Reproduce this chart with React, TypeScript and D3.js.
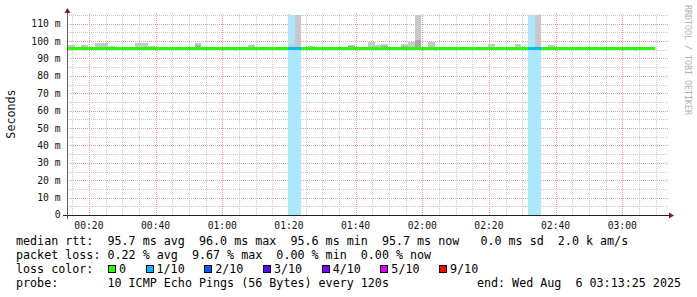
import React from "react";
import * as d3 from "d3";

// ---- data ----
const xTickMinutes = [20, 40, 60, 80, 100, 120, 140, 160, 180];
const xTickLabels = ["00:20", "00:40", "01:00", "01:20", "01:40", "02:00", "02:20", "02:40", "03:00"];
const yTickValues = [0, 10, 20, 30, 40, 50, 60, 70, 80, 90, 100, 110];
const yTickLabels = ["0", "10 m", "20 m", "30 m", "40 m", "50 m", "60 m", "70 m", "80 m", "90 m", "100 m", "110 m"];

// median rtt per 120 s step (ms)
const medianRtt = [
  96.0, 95.7, 95.7, 95.8, 95.7, 95.7, 95.7, 95.7, 95.7, 95.7,
  95.8, 95.8, 95.9, 95.6, 95.7, 95.7, 95.7, 95.7, 95.7, 95.6,
  95.7, 95.7, 95.7, 95.7, 95.7, 95.7, 95.7, 95.7, 95.7, 95.7,
  95.7, 95.7, 95.7, 95.7, 95.7, 95.7, 95.7, 95.7, 95.7, 95.7,
  95.7, 95.7, 95.7, 95.7, 95.7, 95.7, 95.9, 95.6, 95.7, 95.7,
  95.6, 95.7, 95.8, 95.7, 95.7, 95.7, 95.7, 95.7, 95.7, 95.7,
  95.7, 95.7, 95.7, 95.7, 95.7, 95.7, 95.7, 95.7, 95.7, 95.7,
  95.7, 95.7, 95.7, 95.7, 95.7, 95.7, 95.7, 95.7, 95.7, 95.7,
  95.7, 95.7, 95.7, 95.7, 95.7, 95.7, 95.7, 95.7,
];
// highest ping per step (ms)
const smokeMax = [
  97.5, 96.6, 97.9, 96.0, 98.7, 99.1, 97.4, 96.0, 96.0, 96.0,
  99.1, 99.1, 96.9, 96.0, 96.8, 96.8, 96.8, 96.0, 96.0, 99.1,
  96.0, 96.0, 96.6, 96.0, 96.0, 96.6, 96.0, 97.8, 96.0, 96.6,
  96.0, 96.0, 96.0, 97.7, 130.0, 96.0, 97.2, 96.0, 96.0, 96.0,
  96.0, 96.6, 97.8, 96.0, 96.0, 99.5, 97.8, 98.4, 96.0, 96.6,
  98.4, 99.5, 130.0, 96.0, 99.5, 96.0, 96.0, 96.0, 96.0, 96.0,
  96.0, 96.0, 96.0, 98.4, 96.0, 96.0, 96.0, 98.4, 96.0, 96.0,
  130.0, 96.0, 97.8, 96.0, 96.0, 96.0, 96.0, 96.0, 96.0, 96.0,
  96.0, 96.0, 96.0, 96.0, 96.0, 96.0, 96.0, 96.0,
];
// second highest ping per step (ms), 0 = hidden
const smokeInner = [
  0, 0, 0, 0, 0, 0, 0, 0, 0, 0,
  0, 0, 0, 0, 0, 0, 0, 0, 0, 97.7,
  0, 0, 0, 0, 0, 0, 0, 0, 0, 0,
  0, 0, 0, 0, 0, 0, 96.6, 0, 0, 0,
  0, 0, 96.9, 0, 0, 96.6, 0, 97.0, 0, 0,
  97.4, 0, 100.5, 0, 96.7, 0, 0, 0, 0, 0,
  0, 0, 0, 0, 0, 0, 0, 0, 0, 0,
  0, 0, 0, 0, 0, 0, 0, 0, 0, 0,
  0, 0, 0, 0, 0, 0, 0, 0,
];
// lost pings out of 10 per step
const lossTenths = [
  0, 0, 0, 0, 0, 0, 0, 0, 0, 0,
  0, 0, 0, 0, 0, 0, 0, 0, 0, 0,
  0, 0, 0, 0, 0, 0, 0, 0, 0, 0,
  0, 0, 0, 1, 1, 0, 0, 0, 0, 0,
  0, 0, 0, 0, 0, 0, 0, 0, 0, 0,
  0, 0, 0, 0, 0, 0, 0, 0, 0, 0,
  0, 0, 0, 0, 0, 0, 0, 0, 0, 1,
  1, 0, 0, 0, 0, 0, 0, 0, 0, 0,
  0, 0, 0, 0, 0, 0, 0, 0,
];

const lossLevels = [0, 1, 2, 3, 4, 5, 9];
const lossLabels = ["0", "1/10", "2/10", "3/10", "4/10", "5/10", "9/10"];
const lossColors = ["#26ff00", "#00b8ff", "#0059ff", "#5e00ff", "#7e00ff", "#dd00ff", "#ff0000"];

const legendLine1 = "median rtt:  95.7 ms avg  96.0 ms max  95.6 ms min  95.7 ms now   0.0 ms sd  2.0 k am/s";
const legendLine2 = "packet loss: 0.22 % avg  9.67 % max  0.00 % min  0.00 % now";
const legendLine3 = "loss color:";
const legendLine4 = "probe:       10 ICMP Echo Pings (56 Bytes) every 120s";
const endLabel = "end: Wed Aug  6 03:13:25 2025";
const yTitle = "Seconds";
const credit = "RRDTOOL / TOBI OETIKER";

// ---- layout ----
const W = 697, H = 297;
const startSec = 13 * 60 + 25;
const endSec = startSec + 3 * 3600;
const firstStepSec = 13 * 60 + 45;
const stepSec = 120;
const yMax = 115;
const MONO = "'DejaVu Sans Mono', monospace";

export default function App() {
  const x = d3.scaleLinear().domain([startSec, endSec]).range([67, 667]);
  const y = d3.scaleLinear().domain([0, yMax]).range([215, 15]);

  const minorX = d3.range(15 * 60, endSec + 1, 300).filter((s) => s % 1200 !== 0);
  const majorX = xTickMinutes.map((m) => m * 60);
  const minorY = d3.range(5, yMax + 0.1, 10);
  const majorY = yTickValues.filter((v) => v > 0);

  const steps = medianRtt.map((m, i) => {
    const t0 = firstStepSec + i * stepSec;
    return {
      x0: Math.round(x(t0)), x1: Math.round(x(t0 + stepSec)),
      med: m, max: smokeMax[i], inner: smokeInner[i], loss: lossTenths[i],
    };
  });
  const colorFor = (l: number) => {
    let idx = 0;
    lossLevels.forEach((lv, k) => { if (l >= lv) idx = k; });
    return lossColors[idx];
  };
  const ry = (v: number) => Math.round(y(Math.min(v, yMax)));

  // legend boxes
  const charW = 7.05;
  let lx = 108;
  const legendItems = lossLabels.map((lab, k) => {
    const item = { bx: lx, tx: lx + 11, lab, col: lossColors[k] };
    lx = lx + 11 + lab.length * charW + 19.5;
    return item;
  });

  return (
    <svg width={W} height={H} style={{ position: "absolute", left: 0, top: 0, background: "#fff" }}
      fontFamily={MONO}>
      <rect width={W} height={H} fill="#fff" />
      {/* grid */}
      <g shapeRendering="crispEdges">
        {minorY.map((v) => (
          <line key={"my" + v} x1={67} x2={668} y1={Math.round(y(v)) + 0.5} y2={Math.round(y(v)) + 0.5}
            stroke="#c8c8c8" strokeDasharray="1,1" />
        ))}
        {minorX.map((s) => (
          <line key={"mx" + s} x1={Math.round(x(s)) + 0.5} x2={Math.round(x(s)) + 0.5} y1={14} y2={215}
            stroke="#c8c8c8" strokeDasharray="1,1" />
        ))}
        {majorY.map((v) => (
          <line key={"My" + v} x1={67} x2={668} y1={Math.round(y(v)) + 0.5} y2={Math.round(y(v)) + 0.5}
            stroke="#e4a0a0" strokeDasharray="1,1" />
        ))}
        {majorX.map((s) => (
          <line key={"Mx" + s} x1={Math.round(x(s)) + 0.5} x2={Math.round(x(s)) + 0.5} y1={14} y2={215}
            stroke="#e4a0a0" strokeDasharray="1,1" />
        ))}
      </g>
      <g shapeRendering="crispEdges">
        {/* loss background */}
        {steps.filter((s) => s.loss > 0).map((s, i) => (
          <rect key={"lb" + i} x={s.x0} width={s.x1 - s.x0} y={ry(yMax)} height={ry(0) - ry(yMax)}
            fill={d3.interpolateRgb("#ffffff", colorFor(s.loss))(0.33)} />
        ))}
        {/* smoke */}
        {steps.map((s, i) => (
          <g key={"sm" + i}>
            {s.max > s.med && (
              <rect x={s.x0} width={s.x1 - s.x0} y={ry(s.max)} height={ry(s.med) - ry(s.max)} fill="#c8c8c8" />
            )}
            {s.inner > s.med && (
              <rect x={s.x0} width={s.x1 - s.x0} y={ry(s.inner)} height={ry(s.med) - ry(s.inner)} fill="#a8a8a8" />
            )}
          </g>
        ))}
        {/* median line */}
        {steps.map((s, i) => (
          <rect key={"md" + i} x={s.x0} width={s.x1 - s.x0} y={Math.round(y(s.med) - 1.5)} height={3} fill={colorFor(s.loss)} />
        ))}
        {/* axes */}
        <line x1={63} x2={670} y1={215.5} y2={215.5} stroke="#202020" />
        <line x1={67.5} x2={67.5} y1={219} y2={12} stroke="#606060" />
      </g>
      <path d="M64.5,13 L70.5,13 L67.5,8 Z" fill="#8b1a1a" />
      <path d="M669,212.5 L669,218.5 L674,215.5 Z" fill="#8b1a1a" />
      {/* tick labels */}
      {yTickValues.map((v, i) => (
        <text key={"yl" + v} x={60.5} y={y(v)} dy="0.36em" textAnchor="end" fontSize={9.7} fill="#111">
          {yTickLabels[i]}
        </text>
      ))}
      {majorX.map((s, i) => (
        <text key={"xl" + s} x={x(s)} y={228.5} textAnchor="middle" fontSize={9.7} fill="#111">
          {xTickLabels[i]}
        </text>
      ))}
      <text transform="translate(14.5,114) rotate(-90)" textAnchor="middle" fontSize={11.7} fill="#111">{yTitle}</text>
      <text transform="translate(685,5) rotate(90)" fontSize={8.3} fill="#b0b0b0">{credit}</text>
      {/* legend */}
      <g fontSize={11.7} fill="#000" style={{ whiteSpace: "pre" }}>
        <text x={16} y={245} xmlSpace="preserve">{legendLine1}</text>
        <text x={16} y={259} xmlSpace="preserve">{legendLine2}</text>
        <text x={16} y={273} xmlSpace="preserve">{legendLine3}</text>
        {legendItems.map((it) => (
          <g key={it.lab}>
            <rect x={it.bx + 0.5} y={265.5} width={7} height={7} fill={it.col} stroke="#000" shapeRendering="crispEdges" />
            <text x={it.tx} y={273}>{it.lab}</text>
          </g>
        ))}
        <text x={16} y={287} xmlSpace="preserve">{legendLine4}</text>
        <text x={681} y={287} textAnchor="end" xmlSpace="preserve">{endLabel}</text>
      </g>
    </svg>
  );
}
